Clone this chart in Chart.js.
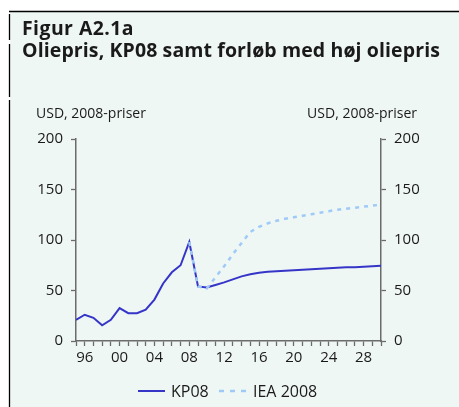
<!DOCTYPE html>
<html>
<head>
<meta charset="utf-8">
<script src="https://cdn.jsdelivr.net/npm/chart.js@4"></script>
<style>
  html, body { margin: 0; padding: 0; background: #fff; }
  #wrap { width: 459px; height: 407px; position: relative; }
</style>
</head>
<body>
<div id="wrap"><canvas id="chart" width="459" height="407"></canvas></div>
<script>
// Oil price, KP08 vs. IEA 2008 (USD, 2008 prices)
const years = [];
for (let y = 1995; y <= 2030; y++) years.push(y);

const kp08 = [21, 26, 23, 15.5, 21, 32.5, 27.5, 27.5, 31, 41, 57, 68, 75, 98,
  54, 53, 55.5, 58, 61, 64, 66, 67.5, 68.5, 69, 69.5, 70, 70.5, 71, 71.5, 72,
  72.5, 73, 73, 73.5, 74, 74.5];

const iea = [null, null, null, null, null, null, null, null, null, null, null, null, null, 98,
  54, 52, 63, 74, 86, 97, 108, 113, 116.5, 119, 121, 122.5, 124, 125.5, 127, 128.5,
  130, 131, 132, 133, 134, 135];

const titleLines = ['Figur A2.1a', 'Oliepris, KP08 samt forløb med høj oliepris'];
const unitLabel = 'USD, 2008-priser';
const seriesNames = ['KP08', 'IEA 2008'];

const COLORS = { kp: '#3535c8', iea: '#9fcaf8', axis: '#6b6b6b', text: '#1a1a1a', bg: '#eff7f5' };
const FONT = '"Open Sans", "Noto Sans", sans-serif';

const toPts = arr => years.map((yr, i) => ({ x: yr, y: arr[i] }));

// fit a line of text to a target width: squeeze if too wide, small letter spacing if short
function fillFit(ctx, text, x, y, width) {
  ctx.letterSpacing = '0px';
  const w = ctx.measureText(text).width;
  if (w < width) ctx.letterSpacing = Math.min(1.2, (width - w) / (text.length - 1)).toFixed(2) + 'px';
  ctx.fillText(text, x, y, width);
  ctx.letterSpacing = '0px';
}

// Frame, titles, unit labels and legend drawn around the plot
const decor = {
  id: 'decor',
  beforeDraw(chart) {
    const ctx = chart.ctx;
    ctx.save();
    ctx.fillStyle = '#fff';
    ctx.fillRect(0, 0, chart.width, chart.height);
    ctx.fillStyle = COLORS.bg;
    ctx.fillRect(10, 12, chart.width - 10, chart.height - 12);
    ctx.strokeStyle = '#000';
    ctx.lineWidth = 1.3;
    ctx.beginPath();
    ctx.moveTo(9, 11.5); ctx.lineTo(chart.width, 11.5);
    [[14, 40], [44, 97], [100, chart.height]].forEach(([a, b]) => {
      ctx.moveTo(9.5, a); ctx.lineTo(9.5, b);
    });
    ctx.stroke();
    ctx.restore();
  },
  afterDraw(chart) {
    const ctx = chart.ctx;
    ctx.save();
    ctx.fillStyle = COLORS.text;
    ctx.textBaseline = 'alphabetic';
    ctx.textAlign = 'left';
    ctx.font = `700 19.5px ${FONT}`;
    fillFit(ctx, titleLines[0], 22, 35, 112);
    fillFit(ctx, titleLines[1], 22, 57, 418);

    ctx.font = `14px ${FONT}`;
    ctx.fillText(unitLabel, 36, 118, 111);
    ctx.textAlign = 'right';
    ctx.fillText(unitLabel, 417, 118, 111);

    // legend
    const ly = 391;
    ctx.lineWidth = 2;
    ctx.strokeStyle = COLORS.kp;
    ctx.beginPath(); ctx.moveTo(138, ly); ctx.lineTo(165, ly); ctx.stroke();
    ctx.strokeStyle = COLORS.iea;
    ctx.lineWidth = 2.5;
    ctx.setLineDash([5, 6]);
    ctx.beginPath(); ctx.moveTo(219, ly); ctx.lineTo(248, ly); ctx.stroke();
    ctx.setLineDash([]);
    ctx.textAlign = 'left';
    ctx.textBaseline = 'middle';
    ctx.font = `16px ${FONT}`;
    ctx.fillText(seriesNames[0], 171, ly + 1, 39);
    ctx.fillText(seriesNames[1], 253, ly + 1, 68);
    ctx.restore();
  }
};

const yAxis = (position, width) => ({
  type: 'linear',
  position,
  min: 0,
  max: 200,
  afterFit: s => { s.width = width; },
  border: { color: COLORS.axis, width: 1.5 },
  grid: { drawOnChartArea: false, drawTicks: true, tickLength: 5, tickColor: COLORS.axis, tickWidth: 1.3 },
  ticks: { stepSize: 50, padding: 8, color: COLORS.text, font: { family: FONT, size: 15 } }
});

new Chart(document.getElementById('chart'), {
  type: 'line',
  data: {
    datasets: [
      {
        label: seriesNames[1],
        data: toPts(iea),
        borderColor: COLORS.iea,
        borderWidth: 2.5,
        borderDash: [4, 5],
        pointRadius: 0,
        tension: 0,
        spanGaps: false
      },
      {
        label: seriesNames[0],
        data: toPts(kp08),
        borderColor: COLORS.kp,
        borderWidth: 2,
        pointRadius: 0,
        tension: 0
      }
    ]
  },
  options: {
    responsive: false,
    animation: false,
    layout: { padding: { top: 139, left: 0, right: 0, bottom: 0 } },
    plugins: { legend: { display: false }, tooltip: { enabled: false } },
    scales: {
      x: {
        type: 'linear',
        min: 1995,
        max: 2030,
        afterFit: s => { s.height = 66; },
        border: { color: COLORS.axis, width: 1.5 },
        grid: { drawOnChartArea: false, drawTicks: true, tickLength: 5, tickColor: COLORS.axis, tickWidth: 1.3 },
        ticks: {
          stepSize: 1,
          autoSkip: false,
          maxRotation: 0,
          padding: 3,
          color: COLORS.text,
          font: { family: FONT, size: 15 },
          callback: v => (v % 4 === 0 ? String(v).slice(2) : '')
        }
      },
      y: yAxis('left', 76),
      y2: yAxis('right', 78)
    }
  },
  plugins: [decor]
});
</script>
</body>
</html>
